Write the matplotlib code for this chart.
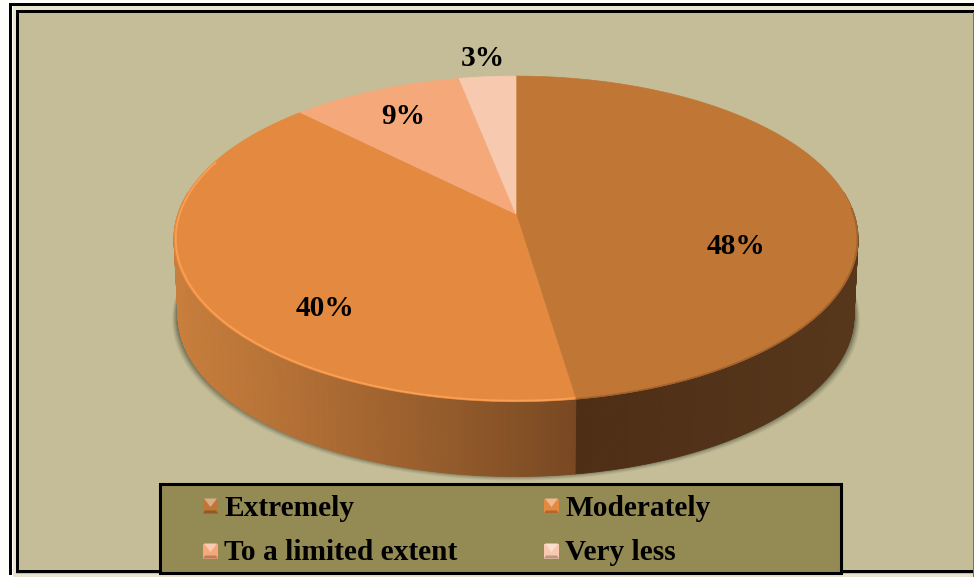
import numpy as np
import matplotlib
matplotlib.use('Agg')
import matplotlib.pyplot as plt
from matplotlib.colors import to_rgb
from matplotlib.patches import Rectangle, Polygon

categories = ['Extremely', 'Moderately', 'To a limited extent', 'Very less']
values = [47.6, 39.9, 9.4, 3.1]
top_colors = ['#C07634', '#E48A40', '#F5A97B', '#F7CAB0']
label_pos = [(736, 247), (325, 308), (403, 117), (483, 58)]
legend_pos = [(203, 506), (544, 506), (203, 551), (544, 551)]

plt.rcParams['font.family'] = ['Liberation Serif', 'DejaVu Serif']

BG = '#C4BD97'
LEGEND_BG = '#948A54'

# perspective pie: apex and scales in pixels
CX, CY = 516, 214
A, S, K = 338, 159, 0.153
DEPTH = 77


def project(theta, r=1.0, drop=0.0, shrink=1.0):
    # theta runs clockwise from 12 o'clock, radians
    x = r * np.sin(theta)
    y = r * np.cos(theta)
    d = 1 + K * y
    return CX + shrink * A * x / d, CY - shrink * S * y / d + drop


def blend(c1, c2, t):
    c1, c2 = np.array(to_rgb(c1)), np.array(to_rgb(c2))
    return tuple(c1 + (c2 - c1) * t)


fig = plt.figure(figsize=(9.74, 5.77), dpi=100, facecolor='#FEFEFB')
ax = fig.add_axes([0, 0, 1, 1])
ax.set_xlim(0, 974)
ax.set_ylim(577, 0)
ax.axis('off')

# frame
ax.add_patch(Rectangle((13, 6), 961, 571, fc='#E8E4D0', ec='none', zorder=0))
ax.add_patch(Rectangle((9, 3), 965, 2.6, fc='black', ec='none', zorder=1))
ax.add_patch(Rectangle((9, 3), 3, 572, fc='black', ec='none', zorder=1))
ax.add_patch(Rectangle((16, 10), 958, 564, fc=BG, ec='none', zorder=1))
ax.add_patch(Rectangle((16, 10), 958, 2.6, fc='black', ec='none', zorder=2))
ax.add_patch(Rectangle((16, 10), 3, 563, fc='black', ec='none', zorder=2))
ax.add_patch(Rectangle((16, 570), 958, 3, fc='black', ec='none', zorder=2))
ax.add_patch(Rectangle((973, 12), 1, 565, fc='#77725A', ec='none', zorder=2))

edges = np.cumsum([0] + values) / sum(values) * 2 * np.pi

# soft shadow below the body
t = np.linspace(np.pi / 2, 3 * np.pi / 2, 200)
for grow, alpha in [(6, 0.08), (5, 0.1), (4, 0.14), (3, 0.18), (2, 0.22), (1, 0.26)]:
    px, py = project(t, drop=DEPTH + grow - 2, shrink=0.988)
    px = CX + (px - CX) * (1 + grow / 340)
    ax.fill(px, py, fc='#3E4030', alpha=alpha, ec='none', zorder=3)

# side wall, only the part facing the viewer
steps = np.linspace(np.radians(82), np.radians(278), 330)
split = edges[1]
for a, b in zip(steps[:-1], steps[1:]):
    x1, y1 = project(np.array([a, b]))
    x2, y2 = project(np.array([b, a]), drop=DEPTH, shrink=0.988)
    xm = (x1.mean() - 176) / (577 - 176)
    if a < split:
        col = blend('#4E2F16', '#482912', min(1, (577 - x1.mean()) / 200))
    else:
        col = blend('#C87E3C', '#784822', np.clip(xm, 0, 1) ** 1.1)
    ax.add_patch(Polygon(np.c_[np.r_[x1, x2], np.r_[y1, y2]], fc=col, ec=col, lw=0.6, zorder=4))

# top face
for start, end, col in zip(edges[:-1], edges[1:], top_colors):
    t = np.linspace(start, end, 200)
    px, py = project(t)
    ax.add_patch(Polygon(np.c_[np.r_[CX, px], np.r_[CY, py]], fc=col, ec=col, lw=0.5, zorder=5))

# rim bevel on the two big slices
t = np.linspace(edges[1], 3 * np.pi / 2 + 0.35, 200)
ax.plot(*project(t, r=0.995), color='#FB9F52', lw=1.3, zorder=6, solid_capstyle='round')
t = np.linspace(np.radians(88), edges[1], 200)
ax.plot(*project(t, r=0.998), color='#8E5526', lw=1.1, alpha=0.55, zorder=6)

for (lx, ly), v in zip(label_pos, values):
    ax.text(lx, ly, f'{v:.0f}%', fontsize=21.2, fontweight='bold', color='black',
            ha='center', va='center', zorder=8)

# legend
ax.add_patch(Rectangle((160, 484), 681, 89, fc=LEGEND_BG, ec='black', lw=2.2, zorder=7))
SW = 15
for (mx, my), name, col in zip(legend_pos, categories, top_colors):
    x0, y0 = mx, my - SW / 2
    x1, y1 = mx + SW, my + SW / 2
    ax.add_patch(Rectangle((x0, y0), SW, SW, fc=col, ec='none', zorder=8))
    ax.add_patch(Polygon([(x0 + 1, y0), (x1 - 1, y0), (mx + SW / 2, my + 1)],
                         fc=blend(col, '#FFFFFF', 0.4), ec='none', zorder=9))
    ax.add_patch(Polygon([(x0, y1), (x1, y1), (x1 - 2, y1 - 3), (x0 + 2, y1 - 3)],
                         fc=blend(col, '#000000', 0.25), ec='none', zorder=9))
    ax.text(mx + 21, my + 2, name, fontsize=21.2, fontweight='bold', color='black',
            ha='left', va='center', zorder=9)

fig.savefig('out.png', dpi=100, facecolor=fig.get_facecolor())
